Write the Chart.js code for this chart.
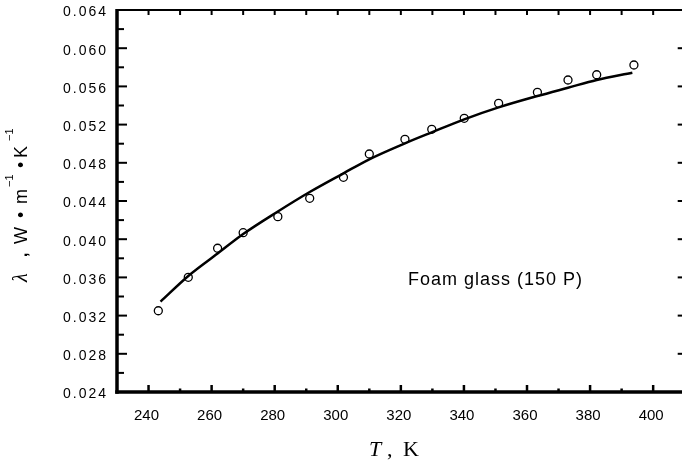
<!DOCTYPE html>
<html>
<head>
<meta charset="utf-8">
<title>Foam glass thermal conductivity</title>
<script src="https://cdn.jsdelivr.net/npm/chart.js@4.4.1/dist/chart.umd.min.js"></script>
<style>
  html, body { margin: 0; padding: 0; background: #fff; overflow: hidden; }
  #wrap { width: 682px; height: 461px; overflow: hidden; }
  #chart { width: 690px; height: 461px; display: block; }
</style>
</head>
<body>
<div id="wrap"><canvas id="chart" width="690" height="461"></canvas></div>
<script>
(function () {
    "use strict";

    // measured points (open circles)
    var measuredT = [243.1, 252.6, 261.9, 270.0, 281.0, 291.1, 301.8, 310.0,
                     321.3, 329.8, 340.1, 351.0, 363.3, 373.0, 382.1, 393.9];
    var measuredLambda = [0.03251, 0.03601, 0.03905, 0.04068, 0.04236, 0.04428, 0.04648, 0.04892,
                          0.05046, 0.05151, 0.05266, 0.05423, 0.05538, 0.05667, 0.05722, 0.05824];

    // fitted curve
    var fitT = [243.8, 252.6, 261.9, 270.0, 281.0, 291.1, 301.8, 310.0,
                321.3, 329.8, 340.1, 351.0, 363.3, 373.0, 382.1, 393.4];
    var fitLambda = [0.03346, 0.03615, 0.03850, 0.04054, 0.04290, 0.04494, 0.04690, 0.04837,
                     0.05004, 0.05119, 0.05255, 0.05380, 0.05499, 0.05586, 0.05667, 0.05743];

    // axis ticks
    var xTicks = [240, 260, 280, 300, 320, 340, 360, 380, 400];
    var xMinorTicks = [250, 270, 290, 310, 330, 350, 370, 390];
    var yTicks = [0.024, 0.028, 0.032, 0.036, 0.040, 0.044, 0.048, 0.052, 0.056, 0.060, 0.064];
    var yTickLabels = ["0.024", "0.028", "0.032", "0.036", "0.040", "0.044",
                       "0.048", "0.052", "0.056", "0.060", "0.064"];
    var yMinorTicks = [0.026, 0.030, 0.034, 0.038, 0.042, 0.046, 0.050, 0.054, 0.058, 0.062];

    var sampleLabel = "Foam glass (150 P)";

    function toPoints(xs, ys) {
        var out = [];
        for (var i = 0; i < xs.length; i++) {
            out.push({x: xs[i], y: ys[i]});
        }
        return out;
    }

    function seg(ctx, x1, y1, x2, y2) {
        ctx.beginPath();
        ctx.moveTo(x1, y1);
        ctx.lineTo(x2, y2);
        ctx.stroke();
    }

    // frame with inward ticks, y labels and axis titles
    var framePlugin = {
        id: "frame",
        afterDraw: function (chart) {
            var ctx = chart.ctx;
            var a = chart.chartArea;
            var xs = chart.scales.x, ys = chart.scales.y;
            var i, p;
            ctx.save();
            ctx.strokeStyle = "#000";
            ctx.fillStyle = "#000";
            ctx.lineCap = "butt";

            // top and right
            ctx.lineWidth = 2;
            seg(ctx, a.left, a.top, a.right, a.top);
            seg(ctx, a.right, a.top, a.right, a.bottom);
            // left and bottom, heavier
            ctx.lineWidth = 3.5;
            seg(ctx, a.left, a.top - 1, a.left, a.bottom + 1.75);
            seg(ctx, a.left - 1.75, a.bottom, a.right, a.bottom);

            // top ticks, every 10 K
            ctx.lineWidth = 2;
            var topTicks = xTicks.concat(xMinorTicks);
            for (i = 0; i < topTicks.length; i++) {
                p = xs.getPixelForValue(topTicks[i]);
                seg(ctx, p, a.top, p, a.top + 5);
            }
            // bottom ticks
            ctx.lineWidth = 2.5;
            for (i = 0; i < xTicks.length; i++) {
                p = xs.getPixelForValue(xTicks[i]);
                seg(ctx, p, a.bottom, p, a.bottom - 7);
            }
            for (i = 0; i < xMinorTicks.length; i++) {
                p = xs.getPixelForValue(xMinorTicks[i]);
                seg(ctx, p, a.bottom, p, a.bottom - 3.5);
            }
            // left ticks
            ctx.lineWidth = 2;
            for (i = 0; i < yTicks.length; i++) {
                p = ys.getPixelForValue(yTicks[i]);
                seg(ctx, a.left, p, a.left + 10, p);
                seg(ctx, a.right, p, a.right - 7, p);
            }
            for (i = 0; i < yMinorTicks.length; i++) {
                p = ys.getPixelForValue(yMinorTicks[i]);
                seg(ctx, a.left, p, a.left + 7, p);
            }

            // y tick labels
            ctx.font = '14px "Liberation Sans", Arial, sans-serif';
            ctx.letterSpacing = "2px";
            ctx.textAlign = "right";
            ctx.textBaseline = "middle";
            for (i = 0; i < yTicks.length; i++) {
                p = ys.getPixelForValue(yTicks[i]);
                ctx.fillText(yTickLabels[i], a.left - 9, p + 2.5);
            }

            // sample label
            ctx.font = '18px "Liberation Sans", Arial, sans-serif';
            ctx.letterSpacing = "1px";
            ctx.textAlign = "left";
            ctx.textBaseline = "alphabetic";
            ctx.fillText(sampleLabel, 408, 285);
            ctx.letterSpacing = "0px";

            // x title: T, K
            ctx.font = 'italic 22px "Liberation Serif", "Times New Roman", serif';
            ctx.fillText("T", 369, 456);
            ctx.font = '22px "Liberation Serif", "Times New Roman", serif';
            ctx.fillText(",", 387, 456);
            ctx.fillText("K", 403, 456);

            // y title: lambda, W*m^-1*K^-1 (rotated)
            ctx.translate(27, 282);
            ctx.rotate(-Math.PI / 2);
            ctx.font = 'italic 20px "Liberation Serif", serif';
            ctx.fillText("\u03bb", 0, 0);
            ctx.font = 'bold 16px "Liberation Sans", Arial, sans-serif';
            ctx.fillText(",", 25, 0);
            ctx.font = '18px "Liberation Sans", Arial, sans-serif';
            ctx.fillText("W", 38, 0);
            ctx.fillText("\u2022", 64, 0);
            ctx.fillText("m", 78, 0);
            ctx.font = '11px "Liberation Sans", Arial, sans-serif';
            ctx.fillText("\u22121", 95, -14);
            ctx.font = '18px "Liberation Sans", Arial, sans-serif';
            ctx.fillText("\u2022", 114, 0);
            ctx.fillText("K", 124, 0);
            ctx.font = '11px "Liberation Sans", Arial, sans-serif';
            ctx.fillText("\u22121", 141, -14);
            ctx.restore();
        }
    };

    var canvas = document.getElementById("chart");
    new Chart(canvas.getContext("2d"), {
        type: "scatter",
        data: {
            datasets: [
                {
                    type: "line",
                    label: "fit",
                    data: toPoints(fitT, fitLambda),
                    borderColor: "#000",
                    borderWidth: 2.5,
                    pointRadius: 0,
                    cubicInterpolationMode: "monotone",
                    fill: false
                },
                {
                    label: sampleLabel,
                    data: toPoints(measuredT, measuredLambda),
                    pointStyle: "circle",
                    pointRadius: 4,
                    borderWidth: 1.3,
                    borderColor: "#000",
                    backgroundColor: "rgba(255,255,255,0)"
                }
            ]
        },
        options: {
            responsive: false,
            animation: false,
            devicePixelRatio: 1,
            layout: {padding: {left: 0, right: 4, top: 10, bottom: 0}},
            plugins: {
                legend: {display: false},
                tooltip: {enabled: false}
            },
            scales: {
                x: {
                    type: "linear",
                    min: 230,
                    max: 410,
                    afterBuildTicks: function (scale) {
                        scale.ticks = xTicks.map(function (v) { return {value: v}; });
                    },
                    afterFit: function (scale) { scale.height = 69; },
                    grid: {display: false},
                    border: {display: false},
                    ticks: {
                        color: "#000",
                        font: {family: '"Liberation Sans", Arial, sans-serif', size: 15},
                        padding: 7,
                        labelOffset: -2,
                        maxRotation: 0,
                        autoSkip: false
                    }
                },
                y: {
                    type: "linear",
                    min: 0.024,
                    max: 0.064,
                    afterBuildTicks: function (scale) {
                        scale.ticks = yTicks.map(function (v) { return {value: v}; });
                    },
                    afterFit: function (scale) { scale.width = 117; },
                    grid: {display: false},
                    border: {display: false},
                    ticks: {display: false}
                }
            }
        },
        plugins: [framePlugin]
    });
})();
</script>
</body>
</html>
